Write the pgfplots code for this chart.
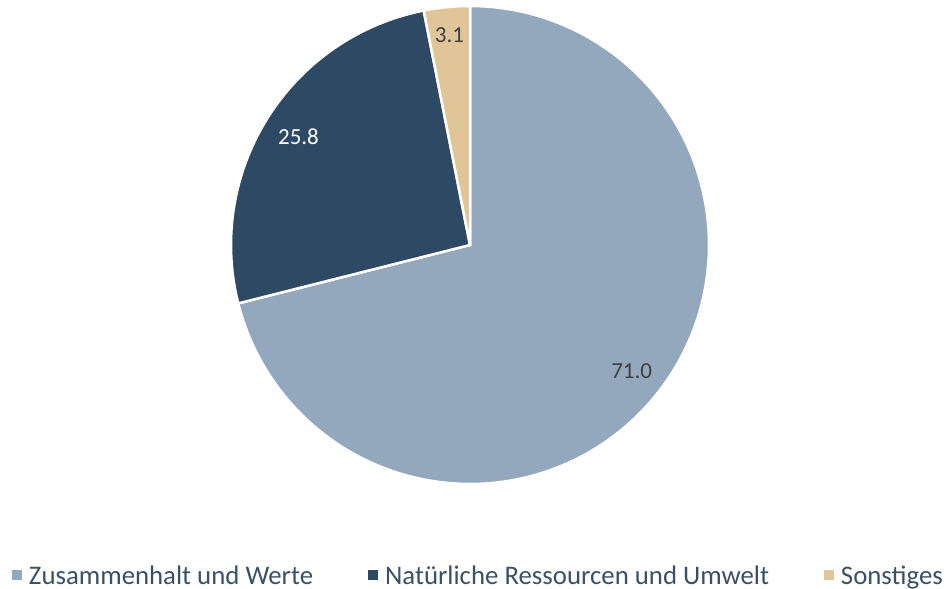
\documentclass[border=0pt]{standalone}
\usepackage{pgfplots}
\pgfplotsset{compat=1.18}
\usepackage{fontspec}
\setmainfont{Carlito}
\definecolor{cA}{HTML}{93A8BC}
\definecolor{cB}{HTML}{2E4964}
\definecolor{cC}{HTML}{DFC597}
\definecolor{lbl}{HTML}{404040}
\definecolor{leg}{HTML}{3A5068}
\pgfplotsset{
  sqlegend/.style={legend image code/.code={\fill[##1] (0bp,-5bp) rectangle (10bp,5bp);}},
}
\begin{document}
\begin{tikzpicture}
\useasboundingbox (0,0) rectangle (946bp,589bp);
\pgfmathsetmacro{\va}{71.0}
\pgfmathsetmacro{\vb}{25.8}
\pgfmathsetmacro{\vc}{3.1}
\pgfmathsetmacro{\tot}{\va+\vb+\vc}
\pgfmathsetmacro{\aA}{90}
\pgfmathsetmacro{\aB}{90-360*(\va/\tot)}
\pgfmathsetmacro{\aC}{\aB-360*(\vb/\tot)}
\pgfmathsetmacro{\aD}{\aC-360*(\vc/\tot)}
\pgfmathsetmacro{\mA}{(\aA+\aB)/2}
\pgfmathsetmacro{\mB}{(\aB+\aC)/2}
\pgfmathsetmacro{\mC}{(\aC+\aD)/2}
\begin{axis}[hide axis, scale only axis, x=1bp, y=1bp,
  xmin=0, xmax=946, ymin=0, ymax=589, clip=false,
  anchor=south west, at={(0,0)}, sqlegend,
  legend columns=3,
  legend style={at={(axis cs:12,14)}, anchor=west, draw=none, fill=none,
    inner sep=0pt, outer sep=0pt,
    font=\fontsize{26.8bp}{30bp}\selectfont, text=leg,
    nodes={inner sep=0pt, text depth=0pt},
    /tikz/every odd column/.append style={column sep=7bp},
    /tikz/every even column/.append style={column sep=55bp}},
  ]
\addplot[fill=cA, draw=white, line width=2.5bp, domain=\aB:\aA, samples=181, variable=\t, forget plot]
  ({470+239*cos(t)},{344+239*sin(t)}) -- (axis cs:470,344) -- cycle;
\addplot[fill=cB, draw=white, line width=2.5bp, domain=\aC:\aB, samples=91, variable=\t, forget plot]
  ({470+239*cos(t)},{344+239*sin(t)}) -- (axis cs:470,344) -- cycle;
\addplot[fill=cC, draw=white, line width=2.5bp, domain=\aD:\aC, samples=21, variable=\t, forget plot]
  ({470+239*cos(t)},{344+239*sin(t)}) -- (axis cs:470,344) -- cycle;
\addlegendimage{fill=cA, draw=none}
\addlegendentry{Zusammenhalt und Werte}
\addlegendimage{fill=cB, draw=none}
\addlegendentry{Natürliche Ressourcen und Umwelt}
\addlegendimage{fill=cC, draw=none}
\addlegendentry{Sonstiges}
\node[font=\fontsize{23bp}{27bp}\selectfont, text=lbl] at (axis cs:{470+205*cos(\mA)},{344+205*sin(\mA)}) {71.0};
\node[font=\fontsize{23bp}{27bp}\selectfont, text=white] at (axis cs:{470+203*cos(\mB)},{344+203*sin(\mB)}) {25.8};
\node[font=\fontsize{23bp}{27bp}\selectfont, text=lbl] at (axis cs:{470+211*cos(\mC)},{344+211*sin(\mC)}) {3.1};
\end{axis}
\end{tikzpicture}
\end{document}
